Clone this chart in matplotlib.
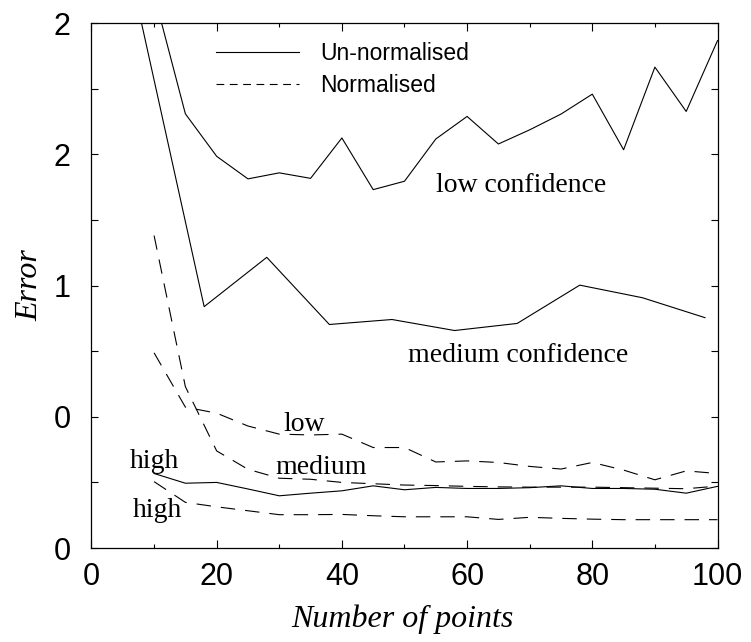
import matplotlib
matplotlib.use("Agg")
import matplotlib.pyplot as plt
from matplotlib.lines import Line2D
from matplotlib.ticker import MultipleLocator

# values
points = [10, 15, 20, 25, 30, 35, 40, 45, 50, 55, 60, 65, 70, 75, 80, 85, 90, 95, 100]
points_medium_un = [8, 18, 28, 38, 48, 58, 68, 78, 88, 98]

low_un = [2.11, 1.655, 1.493, 1.407, 1.430, 1.409, 1.563, 1.366, 1.398, 1.559,
          1.645, 1.540, 1.594, 1.654, 1.730, 1.518, 1.833, 1.664, 1.934]
medium_un = [2.0, 0.920, 1.108, 0.852, 0.871, 0.829, 0.856, 1.002, 0.954, 0.878]
high_un = [0.284, 0.247, 0.250, 0.225, 0.199, 0.209, 0.218, 0.237, 0.222, 0.231,
           0.227, 0.227, 0.230, 0.237, 0.227, 0.227, 0.224, 0.209, 0.235]

low_n = [0.744, 0.537, 0.514, 0.465, 0.434, 0.431, 0.434, 0.383, 0.383, 0.328,
         0.332, 0.326, 0.311, 0.301, 0.326, 0.297, 0.260, 0.294, 0.284]
medium_n = [1.191, 0.615, 0.370, 0.300, 0.266, 0.262, 0.250, 0.245, 0.240, 0.238,
            0.235, 0.233, 0.232, 0.232, 0.232, 0.230, 0.228, 0.226, 0.236]
high_n = [0.253, 0.174, 0.157, 0.142, 0.127, 0.127, 0.128, 0.123, 0.119, 0.119,
          0.119, 0.109, 0.117, 0.113, 0.110, 0.108, 0.108, 0.108, 0.108]

ytick_values = [0, 0.5, 1, 1.5, 2]
ytick_labels = ["0", "0", "1", "2", "2"]
xtick_values = [0, 20, 40, 60, 80, 100]

SANS = "Liberation Sans"
SERIF = "Liberation Serif"
LW = 0.8
DASH = (13, 9)

fig = plt.figure(figsize=(7.51, 6.42), dpi=100)
ax = fig.add_axes([0.1218, 0.1464, 0.8336, 0.8173])

ax.plot(points, low_un, color="black", lw=LW)
ax.plot(points_medium_un, medium_un, color="black", lw=LW)
ax.plot(points, high_un, color="black", lw=LW)
ax.plot(points, low_n, color="black", lw=LW, dashes=DASH)
ax.plot(points, medium_n, color="black", lw=LW, dashes=DASH)
ax.plot(points, high_n, color="black", lw=LW, dashes=DASH)

ax.set_xlim(0, 100)
ax.set_ylim(0, 2)
ax.set_xticks(xtick_values)
ax.set_xticklabels([str(v) for v in xtick_values], fontfamily=SANS, fontsize=22)
ax.xaxis.set_minor_locator(MultipleLocator(10))
ax.set_yticks(ytick_values)
ax.set_yticklabels(ytick_labels, fontfamily=SANS, fontsize=22)
ax.yaxis.set_minor_locator(MultipleLocator(0.25))

ax.tick_params(axis="both", which="both", direction="in", top=True, right=True, width=0.8)
ax.tick_params(axis="x", which="major", length=6, pad=10)
ax.tick_params(axis="x", which="minor", length=3)
ax.tick_params(axis="y", which="both", length=5, pad=15)
for spine in ax.spines.values():
    spine.set_linewidth(0.9)

ax.set_xlabel("Number of points", fontfamily=SERIF, style="italic", fontsize=23,
              va="center")
ax.xaxis.set_label_coords(0.496, -0.135)
ax.set_ylabel("Error", fontfamily=SERIF, style="italic", fontsize=23,
              va="center", ha="center")
ax.yaxis.set_label_coords(-0.099, 0.501)

label_kw = dict(fontfamily=SERIF, fontsize=20, ha="center", va="baseline")
ax.text(68.7, 1.357, "low confidence", **label_kw)
ax.text(68.1, 0.710, "medium confidence", **label_kw)
ax.text(33.9, 0.447, "low", **label_kw)
ax.text(36.7, 0.282, "medium", **label_kw)
ax.text(10.1, 0.305, "high", **label_kw)
ax.text(10.5, 0.118, "high", **label_kw)

handles = [
    Line2D([], [], color="black", lw=LW),
    Line2D([], [], color="black", lw=LW, dashes=(7, 5)),
]
ax.legend(handles, ["Un-normalised", "Normalised"], loc="upper left",
          bbox_to_anchor=(0.199, 0.965), frameon=False, borderpad=0,
          borderaxespad=0, handlelength=3.6, handletextpad=0.95,
          labelspacing=0.4, prop={"family": SANS, "size": 16.5})

fig.savefig("out.png", dpi=100)
